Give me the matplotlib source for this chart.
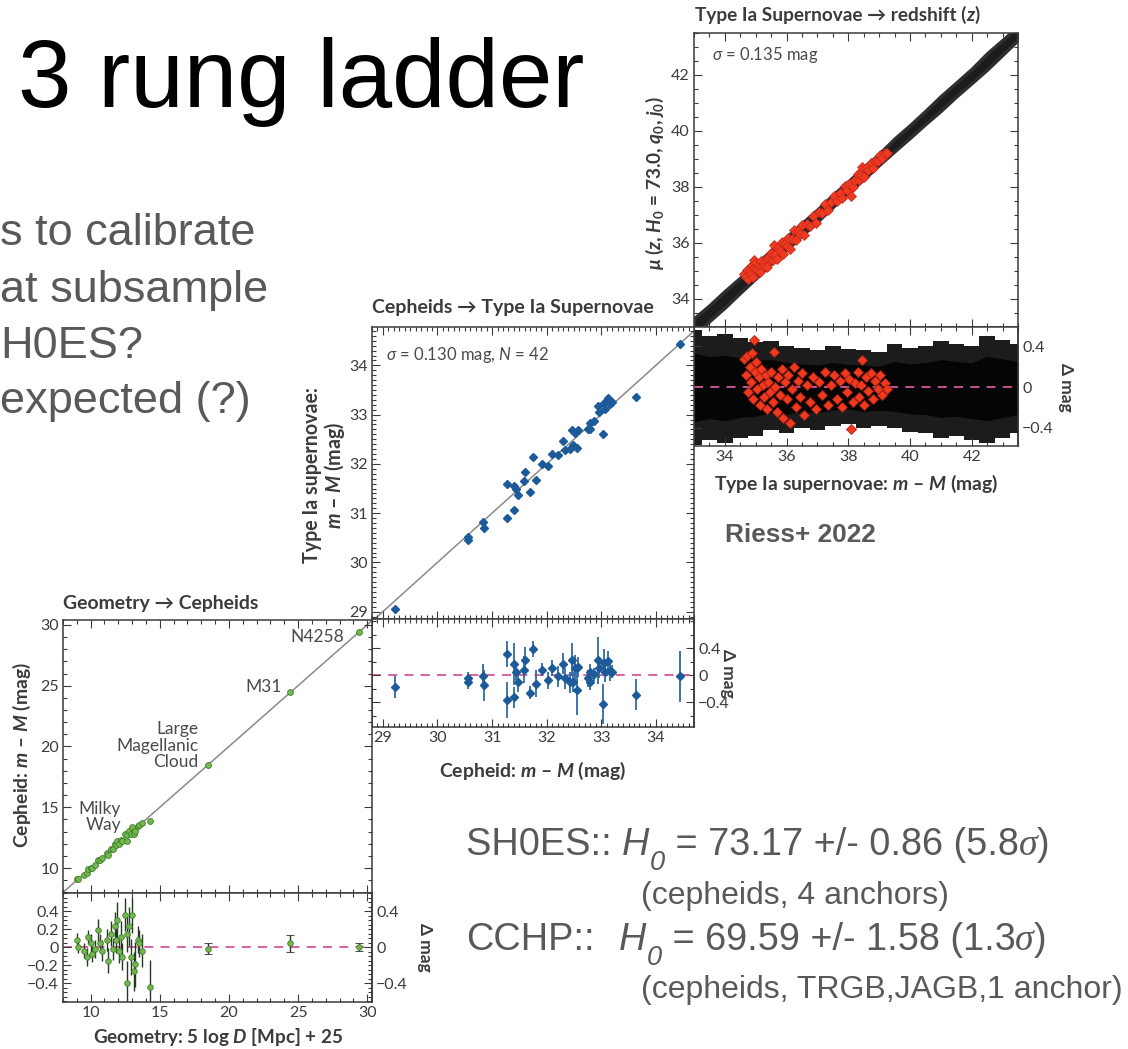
import matplotlib
matplotlib.use('Agg')
import matplotlib.pyplot as plt
from matplotlib import font_manager as fm
from matplotlib.ft2font import FT2Font
from matplotlib.text import Annotation
from matplotlib.ticker import MultipleLocator, FixedLocator, FuncFormatter, NullFormatter
import numpy as np


def usable(fam):
    # needs a real bold face (not a variable font read as regular) and Greek glyphs
    try:
        reg = fm.findfont(fm.FontProperties(family=fam), fallback_to_default=False)
        bold = fm.findfont(fm.FontProperties(family=fam, weight='bold'), fallback_to_default=False)
        bi = fm.findfont(fm.FontProperties(family=fam, weight='bold', style='italic'),
                         fallback_to_default=False)
    except Exception:
        return False
    if reg == bold or bold == bi:
        return False
    f = FT2Font(bold)
    return all(f.get_char_index(ord(c)) for c in '\u03bc\u03c3\u0394')


PF = next((f for f in ['Lato', 'Roboto', 'Open Sans', 'Noto Sans', 'Liberation Sans'] if usable(f)),
          'DejaVu Sans')

plt.rcParams['font.family'] = [PF, 'DejaVu Sans']
plt.rcParams['mathtext.fontset'] = 'custom'
plt.rcParams['mathtext.rm'] = PF
plt.rcParams['mathtext.it'] = PF + ':italic'
plt.rcParams['mathtext.bf'] = PF + ':bold'
plt.rcParams['mathtext.bfit'] = PF + ':bold:italic'

# ---- rung 1: geometry -> cepheids (Milky Way parallaxes + 3 anchors)
mw_x = [9.04, 9.10, 9.50, 9.70, 9.80, 10.00, 10.10, 10.30, 10.50, 10.65, 10.85,
        11.20, 11.25, 11.45, 11.60, 11.75, 11.80, 11.90, 12.05, 12.20, 12.30,
        12.45, 12.60, 12.65, 12.80, 12.90, 13.00, 13.10, 13.20, 13.40, 13.50,
        13.75, 14.27]
mw_res = [0.08, 0.00, -0.04, -0.11, 0.11, 0.04, -0.08, -0.02, 0.19, 0.04, -0.04,
          0.08, -0.15, 0.15, -0.02, 0.23, 0.08, 0.30, -0.04, 0.11, -0.11,
          0.36, 0.15, -0.40, 0.23, -0.11, 0.36, -0.27, -0.19, 0.08, 0.04,
          -0.04, -0.44]
mw_err = [0.08, 0.07, 0.08, 0.10, 0.08, 0.10, 0.09, 0.10, 0.12, 0.10, 0.12,
          0.12, 0.14, 0.14, 0.12, 0.16, 0.15, 0.20, 0.14, 0.18, 0.15,
          0.18, 0.20, 0.25, 0.22, 0.20, 0.20, 0.22, 0.25, 0.15, 0.15,
          0.18, 0.30]
anchor_names = ['Large\nMagellanic\nCloud', 'M31', 'N4258']
anchor_x = [18.48, 24.40, 29.40]
anchor_res = [-0.02, 0.04, 0.00]
anchor_err = [0.06, 0.09, 0.04]

# ---- rung 2: cepheid distances -> SN Ia calibrators (N = 42)
cal_x = [29.23, 30.56, 30.56, 30.84, 30.85, 31.28, 31.28, 31.40, 31.40, 31.43,
         31.48, 31.58, 31.61, 31.69, 31.75, 31.80, 31.92, 32.03, 32.10, 32.20,
         32.30, 32.33, 32.42, 32.46, 32.49, 32.52, 32.55, 32.57, 32.75, 32.79,
         32.80, 32.86, 32.95, 32.96, 33.03, 33.05, 33.07, 33.13, 33.16, 33.20,
         33.64, 34.45]
cal_res = [-0.18, -0.05, -0.11, -0.02, -0.15, 0.31, -0.37, -0.33, 0.16, 0.05,
           -0.11, 0.08, 0.23, -0.26, 0.39, -0.13, 0.08, -0.08, 0.10, -0.02,
           0.17, -0.05, -0.11, 0.23, -0.10, 0.10, -0.22, 0.12, -0.05, 0.05,
           -0.10, 0.01, 0.22, 0.10, -0.43, 0.18, 0.05, 0.21, 0.06, 0.05,
           -0.29, -0.02]
cal_err = [0.16, 0.09, 0.09, 0.18, 0.23, 0.19, 0.27, 0.16, 0.31, 0.12,
           0.14, 0.20, 0.18, 0.10, 0.12, 0.20, 0.10, 0.12, 0.12, 0.15,
           0.15, 0.15, 0.15, 0.25, 0.15, 0.20, 0.37, 0.15, 0.12, 0.12,
           0.12, 0.10, 0.35, 0.15, 0.30, 0.20, 0.15, 0.15, 0.15, 0.10,
           0.23, 0.38]

# ---- rung 3: Hubble-flow SNe (dense cloud -> envelope)
hf_x = [33.0, 33.5, 34.0, 34.5, 35.0, 35.5, 36.0, 36.5, 37.0, 37.5, 38.0,
        38.5, 39.0, 39.5, 40.0, 40.5, 41.0, 41.5, 42.0, 42.5, 43.0, 43.5]
hf_top = [0.56, 0.50, 0.52, 0.48, 0.44, 0.45, 0.40, 0.38, 0.36, 0.40, 0.37,
          0.36, 0.34, 0.42, 0.38, 0.40, 0.45, 0.42, 0.40, 0.50, 0.46, 0.42]
hf_bot = [-0.57, -0.52, -0.55, -0.50, -0.48, -0.42, -0.45, -0.40, -0.42, -0.38, -0.36,
          -0.40, -0.38, -0.40, -0.44, -0.45, -0.50, -0.48, -0.52, -0.55, -0.50, -0.45]
# low-redshift SNe drawn in red
red_x = [34.62, 34.68, 34.72, 34.75, 34.80, 34.85, 34.88, 34.92, 34.94, 34.97,
         35.02, 35.05, 35.10, 35.14, 35.18, 35.22, 35.27, 35.32, 35.36, 35.40,
         35.45, 35.50, 35.55, 35.60, 35.62, 35.68, 35.72, 35.78, 35.84, 35.90,
         35.95, 36.00, 36.06, 36.12, 36.18, 36.25, 36.30, 36.36, 36.42, 36.50,
         36.58, 36.66, 36.75, 36.85, 36.95, 37.05, 37.15, 37.25, 37.35, 37.45,
         37.55, 37.62, 37.72, 37.80, 37.88, 37.95, 38.02, 38.09, 38.15, 38.22,
         38.30, 38.36, 38.42, 38.46, 38.52, 38.58, 38.65, 38.72, 38.80, 38.88,
         38.95, 39.02, 39.10, 39.18, 39.24]
red_res = [0.28, 0.12, 0.30, -0.05, 0.20, 0.05, 0.33, -0.12, 0.46, 0.15,
           0.25, -0.02, 0.10, -0.18, 0.18, 0.02, -0.10, 0.12, -0.22, 0.05,
           -0.05, 0.15, -0.15, 0.34, 0.00, -0.25, 0.10, -0.08, 0.18, -0.30,
           0.05, -0.12, 0.12, -0.35, -0.02, 0.20, -0.20, 0.06, -0.10, 0.14,
           -0.28, 0.02, -0.15, 0.10, -0.22, 0.05, -0.08, 0.15, -0.18, 0.02,
           0.12, -0.12, 0.06, -0.20, 0.14, -0.05, 0.08, -0.41, -0.15, 0.04,
           0.15, -0.10, 0.02, 0.27, -0.18, 0.10, -0.04, 0.14, -0.12, 0.06,
           -0.02, 0.12, -0.08, 0.04, -0.02]

W, H = 1128, 1049
FRAME = '#3a3a3a'
TXT = '#3b3b3b'
SLIDE = '#595959'
GREEN, GREEN_E = '#72b84f', '#3f7d2b'
BLUE = '#1d5a9a'
PINK = '#d9559e'
LINE = '#8a8a8a'

fig = plt.figure(figsize=(W / 100, H / 100), dpi=100)


def px_rect(l, t, r, b):
    return [l / W, 1 - b / H, (r - l) / W, (b - t) / H]


def fpos(x, y):
    return x / W, 1 - y / H


fmt = FuncFormatter(lambda v, p: f"{v:g}".replace('-', '\u2212'))


def style(ax, xmaj, xmin, ymaj, ymin, xlab=False, ylab=True):
    ax.xaxis.set_major_locator(xmaj)
    ax.xaxis.set_minor_locator(MultipleLocator(xmin))
    ax.yaxis.set_major_locator(ymaj)
    ax.yaxis.set_minor_locator(MultipleLocator(ymin))
    ax.xaxis.set_major_formatter(fmt if xlab else NullFormatter())
    ax.yaxis.set_major_formatter(fmt if ylab else NullFormatter())
    ax.tick_params(which='both', direction='in', top=True, right=True,
                   color=FRAME, labelcolor=TXT, labelsize=11.5, width=0.8, pad=3)
    ax.tick_params(which='major', length=6)
    ax.tick_params(which='minor', length=3)
    for s in ax.spines.values():
        s.set_color(FRAME)
        s.set_linewidth(1.1)


def right_labels(ax, mins):
    ax.tick_params(which='both', right=False)
    sec = ax.secondary_yaxis('right')
    sec.yaxis.set_major_locator(FixedLocator([-0.4, 0, 0.4]))
    sec.yaxis.set_minor_locator(MultipleLocator(mins))
    sec.yaxis.set_major_formatter(fmt)
    sec.tick_params(which='both', direction='in', color=FRAME, labelcolor=TXT,
                    labelsize=11.5, width=0.8, pad=3)
    sec.tick_params(which='major', length=6)
    sec.tick_params(which='minor', length=3)
    sec.spines['right'].set_color(FRAME)
    sec.spines['right'].set_linewidth(1.1)


ax_sn = fig.add_axes(px_rect(694, 33, 1018, 327))
ax_snr = fig.add_axes(px_rect(694, 327, 1018, 446))
ax_cs = fig.add_axes(px_rect(372, 327, 694, 619))
ax_csr = fig.add_axes(px_rect(372, 619, 694, 727))
ax_gc = fig.add_axes(px_rect(63, 620, 372, 893))
ax_gcr = fig.add_axes(px_rect(63, 893, 372, 1002))

# ---------- geometry -> cepheids
glim = (8.0, 30.35)
mw_x_a = np.array(mw_x)
an_x_a = np.array(anchor_x)
ax_gc.plot(glim, glim, color=LINE, lw=1.1, zorder=1)
ax_gc.plot(mw_x_a, mw_x_a + np.array(mw_res), 'o', ms=4.2, mfc=GREEN, mec=GREEN_E, mew=0.6, zorder=3)
ax_gc.plot(an_x_a, an_x_a + np.array(anchor_res), 'o', ms=4.2, mfc=GREEN, mec=GREEN_E, mew=0.6, zorder=3)
ax_gc.set_xlim(glim)
ax_gc.set_ylim(7.95, 30.4)
style(ax_gc, MultipleLocator(5), 1, MultipleLocator(5), 1)
lab_off = [(-0.7, 1.6), (-0.6, 0.45), (-1.1, -0.4)]
for name, x, r, (dx, dy) in zip(anchor_names, anchor_x, anchor_res, lab_off):
    ax_gc.text(x + dx, x + r + dy, name, ha='right', va='center', multialignment='right',
               fontsize=12.5, color='#4a4a4a', linespacing=1.05)
ax_gc.text(12.2, 14.2, 'Milky\nWay', ha='right', va='center', multialignment='right',
           fontsize=12.5, color='#4a4a4a', linespacing=1.05)

ax_gcr.axhline(0, color=PINK, ls=(0, (5, 4)), lw=1.3, zorder=1)
ax_gcr.errorbar(mw_x, mw_res, yerr=mw_err, fmt='o', ms=4, mfc=GREEN, mec=GREEN_E, mew=0.6,
                ecolor='#233a1f', elinewidth=1.0, capsize=0, zorder=3)
ax_gcr.errorbar(anchor_x, anchor_res, yerr=anchor_err, fmt='o', ms=4, mfc=GREEN, mec=GREEN_E,
                mew=0.6, ecolor='#233a1f', elinewidth=1.0, capsize=3, zorder=3)
ax_gcr.set_xlim(glim)
ax_gcr.set_ylim(-0.61, 0.6)
style(ax_gcr, MultipleLocator(5), 1, FixedLocator([-0.4, -0.2, 0, 0.2, 0.4]), 0.05, xlab=True)
right_labels(ax_gcr, 0.05)

# ---------- cepheids -> SN Ia
cal_x_a = np.array(cal_x)
ax_cs.plot((28.8, 34.75), (28.8, 34.75), color=LINE, lw=1.1, zorder=1)
ax_cs.plot(cal_x_a, cal_x_a + np.array(cal_res), 'D', ms=3.6, color=BLUE, zorder=3)
ax_cs.set_xlim(28.8, 34.7)
ax_cs.set_ylim(28.85, 34.78)
style(ax_cs, MultipleLocator(1), 0.1, MultipleLocator(1), 0.1)
ax_cs.text(0.045, 0.905, r'$\mathit{\sigma}$ = 0.130 mag, $\mathit{N}$ = 42', transform=ax_cs.transAxes,
           fontsize=12, color='#4a4a4a', va='center')

ax_csr.axhline(0, color=PINK, ls=(0, (5, 4)), lw=1.3, zorder=1)
ax_csr.errorbar(cal_x, cal_res, yerr=cal_err, fmt='D', ms=3.6, color=BLUE, ecolor='#2f6aa3',
                elinewidth=1.3, capsize=0, zorder=3)
ax_csr.set_xlim(28.8, 34.7)
ax_csr.set_ylim(-0.77, 0.83)
style(ax_csr, MultipleLocator(1), 0.1, FixedLocator([-0.4, 0, 0.4]), 0.2, xlab=True, ylab=False)
right_labels(ax_csr, 0.2)

# ---------- SN Ia -> redshift
hx = np.array(hf_x)
ht = np.array(hf_top)
hb = np.array(hf_bot)
rx = np.array(red_x)
ax_sn.plot((33, 43.5), (33, 43.5), color=LINE, lw=1.1, zorder=1)
ax_sn.fill_between(hx, hx + 0.55 * hb, hx + 0.55 * ht, color='#1c1c1c', lw=2.5, edgecolor='#2e2e2e', zorder=2)
ax_sn.plot(rx, rx + np.array(red_res), 'D', ms=5.2, mfc='#ef3a20', mec='#c4281a', mew=0.5, zorder=3)
ax_sn.set_xlim(33.0, 43.5)
ax_sn.set_ylim(33.0, 43.5)
style(ax_sn, MultipleLocator(2), 0.5, MultipleLocator(2), 0.5)
ax_sn.text(0.055, 0.925, r'$\mathit{\sigma}$ = 0.135 mag', transform=ax_sn.transAxes,
           fontsize=12, color='#4a4a4a', va='center')

ax_snr.fill_between(hx, hb, ht, step='mid', color='#1c1c1c', lw=0, zorder=1)
ax_snr.fill_between(hx, 0.6 * hb, 0.6 * ht, color='#050505', lw=0, zorder=2)
ax_snr.axhline(0, color=PINK, ls=(0, (5, 4)), lw=1.3, zorder=3)
ax_snr.plot(red_x, red_res, 'D', ms=5.5, mfc='#ef3a20', mec='#a8200f', mew=0.6, zorder=4)
ax_snr.set_xlim(33.0, 43.5)
ax_snr.set_ylim(-0.58, 0.59)
style(ax_snr, MultipleLocator(2), 0.5, FixedLocator([-0.4, 0, 0.4]), 0.2, xlab=True, ylab=False)
right_labels(ax_snr, 0.2)

# ---------- panel titles and axis labels (positions in pixels)
fit_list = []


def ftext(x, y, s, target, axis='w', **kw):
    kw.setdefault('color', TXT)
    kw.setdefault('ha', 'center')
    kw.setdefault('va', 'center')
    t = fig.text(*fpos(x, y), s, **kw)
    fit_list.append((t, target, axis))
    return t


ftext(63, 603, 'Geometry \u2192 Cepheids', 195, ha='left', fontsize=13, fontweight='bold')
ftext(372, 308, 'Cepheids \u2192 Type Ia Supernovae', 281, ha='left', fontsize=13, fontweight='bold')
sn_title = ftext(695, 15, 'Type Ia Supernovae \u2192 redshift (', 272, ha='left', fontsize=13,
                 fontweight='bold')
sn_title_z = fig.text(*fpos(968, 15), r'$\mathbfit{z}$)', ha='left', va='center', fontsize=13,
                      fontweight='bold', color=TXT)

ftext(218, 1037, r'Geometry: 5 log $\mathbfit{D}$ [Mpc] + 25', 250, fontsize=13, fontweight='bold')
ftext(533, 771, 'Cepheid: $\\mathbfit{m}$ \u2013 $\\mathbfit{M}$ (mag)', 187, fontsize=13, fontweight='bold')
ftext(856, 484, 'Type Ia supernovae: $\\mathbfit{m}$ \u2013 $\\mathbfit{M}$ (mag)', 283, fontsize=13,
      fontweight='bold')

ftext(22, 755, 'Cepheid: $\\mathbfit{m}$ \u2013 $\\mathbfit{M}$ (mag)', 185, axis='h', rotation=90,
      fontsize=13, fontweight='bold')
ftext(324, 475, 'Type Ia supernovae:\n$\\mathbfit{m}$ \u2013 $\\mathbfit{M}$ (mag)', 176, axis='h',
      rotation=90, fontsize=13, fontweight='bold', linespacing=1.0)
ftext(655, 183, r'$\mathbfit{\mu}$ ($\mathbfit{z}$, $\mathbfit{H}_\mathbf{0}$ = 73.0, '
      r'$\mathbfit{q}_\mathbf{0}$, $\mathbfit{j}_\mathbf{0}$)', 173, axis='h', rotation=90,
      fontsize=13, fontweight='bold')

for x, y in [(1066, 387), (728, 673), (425, 947)]:
    fig.text(*fpos(x, y), '\u0394 mag', rotation=270, ha='center', va='center',
             fontsize=12.5, fontweight='bold', color=TXT)

# ---------- slide text
ftext(18, 107, '3 rung ladder', 567, ha='left', va='baseline', color='black',
      family='Liberation Sans', fontsize=68)
for s, y in [('s to calibrate', 245), ('at subsample', 302), ('H0ES?', 358), ('expected (?)', 413)]:
    fig.text(*fpos(0, y), s, ha='left', va='baseline', color=SLIDE, family='Liberation Sans',
             fontsize=32.5)
ftext(725, 542, 'Riess+ 2022', 152, ha='left', va='baseline', color=SLIDE, family='Liberation Sans',
      fontweight='bold', fontsize=17)

renderer = fig.canvas.get_renderer()
for t, target, axis in fit_list:
    bb = t.get_window_extent(renderer)
    cur = bb.width if axis == 'w' else bb.height
    t.set_fontsize(t.get_fontsize() * target / cur)

# attach "z)" right after the fitted SN title
bb = sn_title.get_window_extent(renderer)
sn_title_z.set_fontsize(sn_title.get_fontsize())
sn_title_z.set_x(bb.x1 / W)


def chain(x, y, pieces):
    """Draw text pieces one after another on a common baseline."""
    kw0 = dict(color=SLIDE, family='Liberation Sans')
    s, fs, extra, dy = pieces[0]
    base = fig.text(*fpos(x, y), s, fontsize=fs, ha='left', va='baseline', **{**kw0, **extra})
    prev = base
    for s, fs, extra, dy in pieces[1:]:
        a = Annotation(s, xy=(1, 0), xycoords=(prev, base), xytext=(0, dy),
                       textcoords='offset points', ha='left', va='bottom', fontsize=fs,
                       annotation_clip=False, **{**kw0, **extra})
        fig.add_artist(a)
        prev = a
    return base


MAIN, SUB = 27.3, 23
ital = dict(style='italic')
serif = dict(family='Liberation Serif', style='italic')
chain(466, 855, [('SH0ES:: ', MAIN, {}, 0), ('H', MAIN, ital, 0), ('0', MAIN * 0.72, ital, -MAIN * 0.34),
                 (' = 73.17 +/- 0.86 (5.8', MAIN, {}, 0), ('\u03c3', MAIN, serif, 0), (')', MAIN, {}, 0)])
fig.text(*fpos(641, 904), '(cepheids, 4 anchors)', ha='left', va='baseline', color=SLIDE,
         family='Liberation Sans', fontsize=SUB)
fig.text(*fpos(466, 950), 'CCHP::', ha='left', va='baseline', color=SLIDE,
         family='Liberation Sans', fontsize=MAIN)
chain(619, 950, [('H', MAIN, ital, 0), ('0', MAIN * 0.72, ital, -MAIN * 0.34),
                 (' = 69.59 +/- 1.58 (1.3', MAIN, {}, 0), ('\u03c3', MAIN, serif, 0), (')', MAIN, {}, 0)])
fig.text(*fpos(641, 998), '(cepheids, TRGB,JAGB,1 anchor)', ha='left', va='baseline', color=SLIDE,
         family='Liberation Sans', fontsize=SUB)

fig.savefig('out.png', dpi=100)
